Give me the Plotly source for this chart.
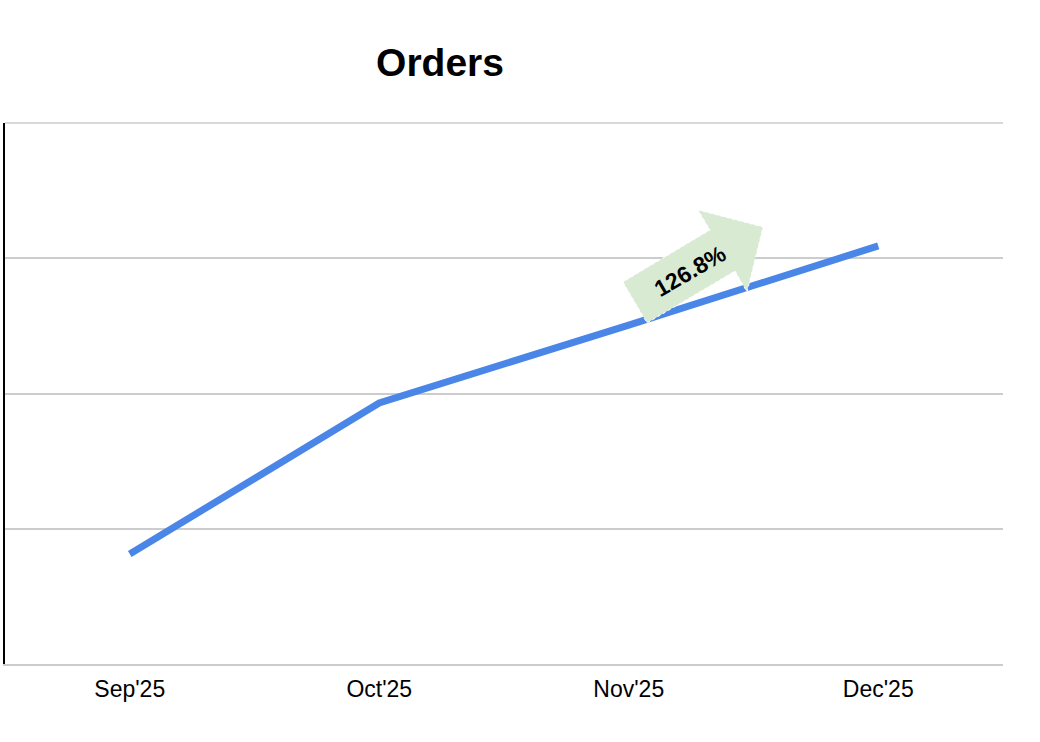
import plotly.graph_objects as go

# Data
months = ["Sep'25", "Oct'25", "Nov'25", "Dec'25"]
orders = [0.813, 1.930, 2.506, 3.091]
growth_label = "126.8%"

W, H = 1040, 742
L, R, T, B = 5, 37, 123, 78
pw, ph = W - L - R, H - T - B


def to_paper(px, py):
    return (px - L) / pw, (H - B - py) / ph


fig = go.Figure()
fig.add_trace(go.Scatter(
    x=months, y=orders, mode="lines",
    line=dict(color="#4a86e8", width=7),
    hoverinfo="skip", showlegend=False,
))

# top gridline (plotly drops the one on the plot edge)
fig.add_shape(type="line", xref="paper", yref="paper", x0=0, x1=1, y0=1, y1=1,
              line=dict(color="#cccccc", width=1.5), layer="above")

# Block arrow decoration (pixel outline converted to paper coords)
arrow_px = [(623, 282), (647, 323), (735, 271), (747, 292), (763, 227), (698, 210), (710, 230)]
pts = [to_paper(x, y) for x, y in arrow_px]
path = "M " + " L ".join(f"{x:.4f},{y:.4f}" for x, y in pts) + " Z"
fig.add_shape(type="path", xref="paper", yref="paper", path=path,
              fillcolor="#d9ead3", line=dict(color="white", width=1, dash="dot"), layer="above")

tx, ty = to_paper(690, 271)
fig.add_annotation(x=tx, y=ty, xref="paper", yref="paper", text=f"<b>{growth_label}</b>",
                   showarrow=False, textangle=-30, xanchor="center", yanchor="middle",
                   font=dict(family="Arial, Liberation Sans, sans-serif", size=23, color="#000000"))

fig.update_layout(
    width=W, height=H,
    margin=dict(l=L, r=R, t=T, b=B, autoexpand=False),
    paper_bgcolor="white", plot_bgcolor="white",
    title=dict(text="<b>Orders</b>", x=440 / W, xanchor="center", y=1 - 62 / H, yanchor="middle",
               font=dict(family="Arial, Liberation Sans, sans-serif", size=39, color="#000000")),
    font=dict(family="Arial, Liberation Sans, sans-serif", color="#000000"),
    xaxis=dict(type="category", range=[-0.5, 3.5], showgrid=False, showline=True,
               linecolor="#cccccc", linewidth=2, automargin=False, ticklabelstandoff=3,
               ticks="", tickfont=dict(size=23, color="#000000"), fixedrange=True),
    yaxis=dict(range=[0, 4], dtick=1, showgrid=True, gridcolor="#cccccc", gridwidth=1.5,
               showticklabels=False, showline=True, linecolor="#000000", linewidth=2,
               automargin=False, zeroline=False, ticks="", fixedrange=True),
)

fig.write_html("out.html", config={"displayModeBar": False},
               post_script="document.body.style.margin='0';document.body.style.padding='0';")
